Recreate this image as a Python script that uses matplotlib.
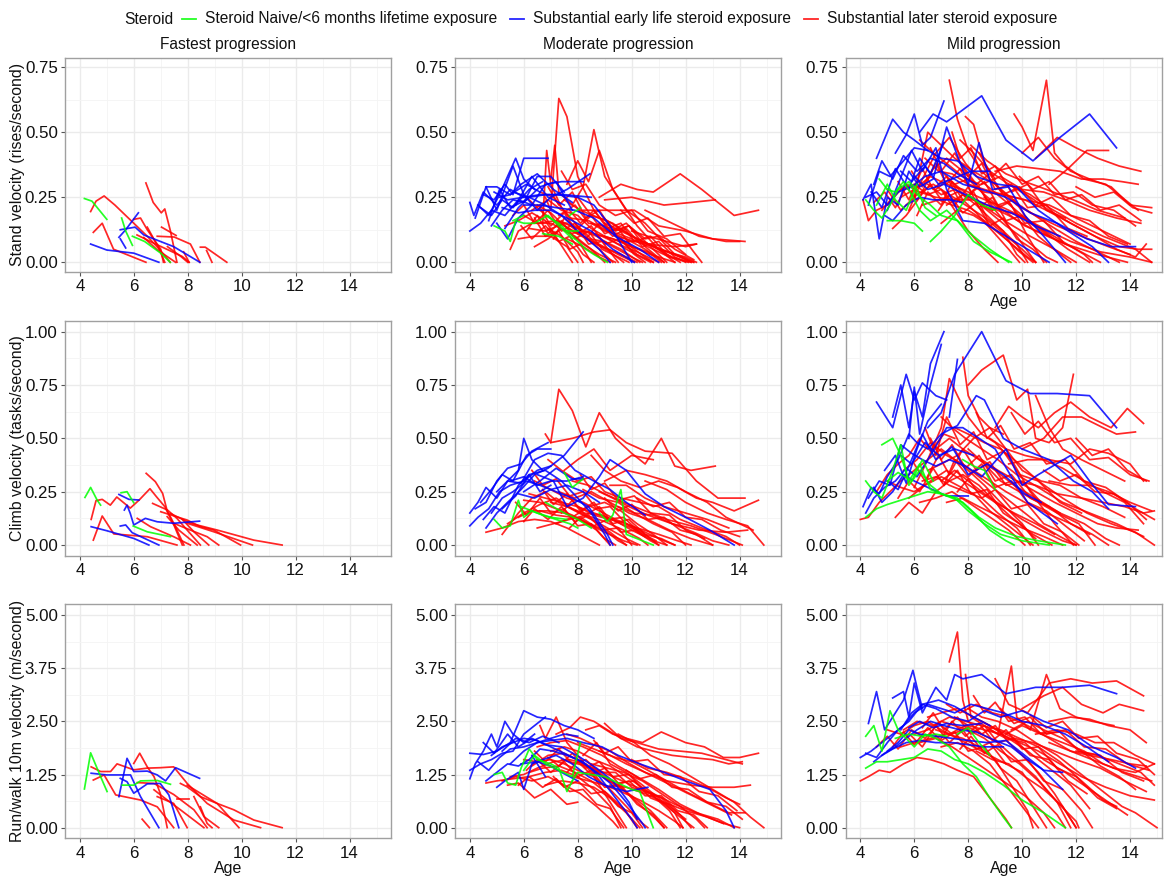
import matplotlib
matplotlib.use("Agg")
import matplotlib.pyplot as plt
from matplotlib.lines import Line2D

# ---------------- data: each trajectory = [age, value, age, value, ...] ----------------
GROUPS = ["Steroid Naive/<6 months lifetime exposure",
          "Substantial early life steroid exposure",
          "Substantial later steroid exposure"]
COLORS = ["#00FF00", "#0000FF", "#FF0000"]
COLUMN_TITLES = ["Fastest progression", "Moderate progression", "Mild progression"]
ROW_LABELS = ["Stand velocity (rises/second)", "Climb velocity (tasks/second)",
              "Run/walk 10m velocity (m/second)"]
ROW_TICKS = [[0.00, 0.25, 0.50, 0.75], [0.00, 0.25, 0.50, 0.75, 1.00],
             [0.00, 1.25, 2.50, 3.75, 5.00]]
X_TICKS = [4, 6, 8, 10, 12, 14]

# ---- Stand, fastest ----
STAND_FAST_GREEN = [
    [4.17, .245, 4.45, .235, 5.0, .165],
    [5.55, .17, 5.7, .12, 5.95, .065],
    [5.95, .10, 6.4, .08, 7.0, .035, 7.35, 0.0],
]
STAND_FAST_BLUE = [
    [4.4, .07, 5.0, .047, 6.0, .035, 6.93, 0.0],
    [5.45, .096, 5.7, .125, 6.17, .19],
    [5.5, .125, 6.05, .135, 6.37, .105, 7.48, .06, 8.45, 0.0],
    [5.5, .09, 5.7, .055],
]
STAND_FAST_RED = [
    [4.4, .195, 4.6, .235, 4.9, .255, 5.3, .22, 5.85, .165, 6.5, .10, 6.95, .05, 7.35, 0.0],
    [4.5, .115, 4.83, .15, 5.25, .05, 6.45, 0.0],
    [6.45, .305, 6.72, .23, 7.02, .19, 7.15, .205, 7.36, .12, 7.48, .06, 7.6, 0.0],
    [6.0, .165, 6.25, .17, 6.5, .125, 7.0, .05, 7.1, 0.0],
    [7.03, .135, 7.57, .103],
    [6.87, .1, 7.5, .097, 8.1, .07, 8.45, 0.0],
    [8.47, .058, 8.65, .058, 9.45, 0.0],
    [6.12, .105, 6.75, .073, 7.8, .022, 8.05, 0.0],
    [6.5, .135, 6.9, .06, 7.15, 0.0],
    [7.85, .04, 8.05, 0.0],
    [7.25, .06, 7.75, .022, 8.0, 0.0],
    [8.7, .045, 8.9, 0.0],
    [6.37, .095, 6.87, .048, 7.55, 0.0],
]

# ---- Stand, moderate ----
STAND_MOD_GREEN = [
    [4.9, .14, 5.3, .12, 5.5, .08, 5.7, .16, 6.0, .15, 6.4, .15, 6.9, .18, 7.3, .14, 7.8, .09],
    [6.7, .11, 7.3, .10, 7.8, .07],
    [6.8, .18, 7.3, .15, 7.8, .10, 8.3, .05, 8.6, .03, 9.1, 0.0],
    [5.6, .16, 6.0, .18],
    [7.7, .18, 8.1, .21],
    [7.6, .12, 8.0, .12],
]
STAND_MOD_BLUE = [
    [4.0, .23, 4.15, .18, 4.5, .27, 5.0, .22, 5.5, .28, 6.0, .25],
    [4.0, .12, 4.4, .15, 4.8, .20, 5.3, .18, 5.8, .24, 6.3, .22],
    [4.2, .17, 4.6, .29, 5.0, .29, 5.5, .26, 6.1, .30, 6.6, .27],
    [4.3, .22, 4.7, .18, 5.1, .26, 5.4, .33, 5.7, .40, 6.0, .32, 6.4, .28],
    [4.5, .26, 4.9, .24, 5.3, .30, 5.6, .26, 6.0, .40, 6.9, .40],
    [4.8, .14, 5.2, .20, 5.6, .24, 6.0, .23, 6.5, .33, 7.0, .33, 7.5, .27],
    [5.0, .15, 5.4, .09, 5.8, .17, 6.3, .22, 6.8, .30, 7.4, .31, 8.2, .31],
    [5.1, .25, 5.5, .26, 5.9, .30, 6.5, .34, 7.1, .28, 7.8, .23],
    [4.6, .29, 5.0, .20, 5.6, .37, 6.0, .26, 6.5, .20, 7.0, .25, 7.6, .28, 8.45, .34],
    [5.3, .13, 5.8, .21, 6.2, .25, 6.8, .26, 7.5, .26, 8.5, .25],
    [4.9, .27, 5.4, .24, 6.0, .25, 6.6, .26, 7.2, .26, 8.0, .25, 8.6, .22, 9.2, .14, 10.0, 0.0],
    [5.2, .21, 5.8, .19, 6.4, .20, 7.0, .20, 7.8, .16, 8.5, .12, 9.3, .05, 10.1, 0.0],
    [5.6, .27, 6.2, .25, 6.8, .22, 7.4, .18, 8.0, .12, 8.8, .05, 9.2, 0.0],
    [6.0, .22, 6.6, .22, 7.2, .21, 7.9, .20, 8.6, .17, 9.4, .10, 10.3, .05, 11.0, 0.0],
    [4.4, .21, 4.8, .18, 5.2, .24, 5.6, .21, 6.2, .28, 6.7, .31],
    [5.7, .22, 6.3, .33, 6.9, .25, 7.5, .22],
    [4.7, .16, 5.1, .28, 5.5, .21, 6.1, .24, 6.6, .29, 7.2, .31, 7.8, .20],
]
STAND_MOD_RED = [
    [6.8, .25, 7.0, .20, 7.3, .63, 7.6, .56, 8.0, .33, 8.6, .20, 9.4, .10, 10.2, .03, 10.8, 0.0],
    [6.7, .15, 6.85, .43, 7.0, .30, 7.4, .21, 8.0, .14, 8.6, .08, 9.5, .03, 10.1, 0.0],
    [7.0, .32, 7.15, .45, 7.3, .27, 7.8, .22, 8.2, .29, 8.6, .51, 9.0, .33, 9.5, .25, 10.2, .14, 11.0, .05, 11.6, 0.0],
    [7.6, .30, 8.0, .39, 8.4, .31, 8.8, .43, 9.3, .28, 9.8, .20, 10.5, .15, 11.6, .03, 12.2, 0.0],
    [8.8, .25, 9.6, .30, 10.2, .28, 10.8, .27, 11.8, .34, 12.6, .28, 13.8, .18, 14.7, .20],
    [9.0, .24, 10.0, .25, 11.2, .22, 12.2, .23, 13.1, .24],
    [8.2, .20, 9.0, .20, 10.1, .20, 11.0, .14, 12.0, .12, 13.0, .09, 14.2, .08],
    [10.5, .20, 11.5, .15, 12.5, .10, 13.5, .08, 14.0, .08],
    [9.4, .10, 10.5, .07, 11.6, .06, 12.4, .07],
    [9.0, .15, 10.0, .10, 11.0, .05, 12.0, .02, 12.4, 0.0],
    [5.5, .05, 5.8, .12, 6.3, .15, 7.0, .15, 7.6, .12, 8.2, .07, 8.8, .03, 9.4, 0.0],
    [5.8, .09, 6.4, .10, 7.0, .10, 7.6, .06, 8.0, 0.0],
    [6.0, .18, 6.5, .15, 7.2, .16, 7.8, .12, 8.5, .08, 9.2, .04, 9.7, 0.0],
    [6.2, .13, 6.8, .12, 7.5, .15, 8.0, .13, 8.7, .10, 9.3, .06, 10.0, .02, 10.4, 0.0],
    [6.5, .22, 7.0, .19, 7.5, .14, 8.2, .10, 8.9, .06, 9.6, .03, 10.2, 0.0],
    [6.3, .20, 6.9, .24, 7.4, .20, 8.0, .18, 8.5, .13, 9.0, .10, 9.8, .05, 10.7, 0.0],
    [7.2, .14, 7.7, .11, 8.3, .12, 8.9, .10, 9.5, .07, 10.2, .04, 11.0, 0.0],
    [7.5, .24, 8.1, .20, 8.8, .17, 9.3, .15, 10.0, .10, 10.8, .06, 11.5, .02, 12.2, 0.0],
    [8.0, .25, 8.5, .18, 9.1, .16, 9.7, .12, 10.4, .08, 11.3, .04, 12.3, 0.0],
    [6.6, .27, 7.1, .25, 7.7, .17, 8.4, .16, 9.1, .12, 9.8, .09, 10.5, .05, 11.2, 0.0],
    [5.3, .14, 5.8, .16, 6.3, .19, 6.8, .16, 7.3, .08, 7.8, 0.0],
    [6.9, .13, 7.4, .10, 8.0, .04, 8.2, 0.0],
    [8.5, .15, 9.0, .12, 9.5, .11, 10.0, .09, 10.6, .06, 11.4, .02, 12.1, 0.0],
    [7.9, .15, 8.4, .09, 9.0, .08, 9.6, .05, 10.3, 0.0],
    [6.4, .06, 6.9, .09, 7.4, .13, 7.9, .10, 8.5, .05, 9.0, 0.0],
    [9.2, .12, 9.8, .15, 10.3, .10, 10.9, .04, 11.3, 0.0],
    [7.3, .18, 7.9, .22, 8.4, .15, 9.0, .14, 9.7, .08, 10.5, .02, 10.8, 0.0],
    [8.6, .11, 9.3, .09, 10.0, .06, 10.7, .03, 11.6, 0.0],
    [7.6, .09, 8.2, .06, 8.8, .02, 9.2, 0.0],
    [6.1, .25, 6.6, .20, 7.1, .16, 7.6, .15, 8.1, .11, 8.6, .07, 9.1, .02, 9.3, 0.0],
    [10.0, .12, 10.6, .10, 11.3, .08, 12.0, .06, 12.4, .07],
    [9.0, .10, 9.6, .08, 10.4, .08, 11.1, .05, 11.9, .02, 12.3, 0.0],
    [6.1, .12, 6.5, .18, 6.9, .11, 7.4, .16, 7.9, .09, 8.4, .12, 8.9, .05, 9.5, .02, 9.9, 0.0],
    [6.6, .21, 7.0, .14, 7.5, .19, 8.0, .11, 8.5, .14, 9.0, .07, 9.6, .09, 10.1, .03, 10.5, 0.0],
    [7.1, .09, 7.5, .17, 8.0, .13, 8.5, .18, 9.0, .11, 9.5, .13, 10.0, .06, 10.6, .04, 11.1, 0.0],
    [7.7, .20, 8.1, .15, 8.6, .20, 9.1, .13, 9.6, .15, 10.1, .08, 10.7, .10, 11.3, .03, 11.8, 0.0],
    [5.9, .14, 6.3, .09, 6.8, .14, 7.3, .08, 7.7, .10, 8.2, .03, 8.6, 0.0],
    [8.3, .09, 8.8, .15, 9.3, .10, 9.8, .13, 10.4, .06, 11.0, .08, 11.6, .02, 12.0, 0.0],
    [6.9, .29, 7.3, .22, 7.8, .27, 8.3, .17, 8.8, .20, 9.3, .12, 9.9, .14, 10.5, .06, 11.2, 0.0],
    [5.6, .18, 6.0, .22, 6.4, .15, 6.9, .20, 7.4, .12, 7.9, .15, 8.4, .07, 8.9, .08, 9.5, 0.0],
    [9.6, .20, 10.1, .15, 10.6, .17, 11.2, .10, 11.8, .11, 12.3, .04, 12.6, 0.0],
    [7.4, .35, 7.8, .28, 8.3, .30, 8.8, .22, 9.4, .18, 10.0, .20, 10.6, .12, 11.3, .09, 12.0, .03],
    [6.4, .17, 6.8, .10, 7.3, .12, 7.7, .05, 8.1, .07, 8.5, 0.0],
    [8.9, .18, 9.4, .12, 9.9, .14, 10.5, .09, 11.0, .10, 11.6, .05, 12.3, .01],
]

# ---- Stand, mild ----
STAND_MILD_GREEN = [
    [4.2, .24, 4.5, .20, 4.8, .17, 5.1, .22, 5.4, .28, 5.8, .31, 6.1, .28, 6.4, .21, 6.8, .18],
    [4.7, .32, 5.0, .28, 5.3, .27, 5.6, .31, 5.9, .26, 6.2, .20, 6.6, .16, 7.2, .20, 7.7, .15, 8.2, .10, 8.8, .05, 9.5, 0.0],
    [5.8, .30, 6.2, .25, 6.6, .22, 7.0, .18, 7.6, .16, 8.2, .08, 8.8, .04, 9.6, 0.0],
    [6.6, .08, 7.0, .12, 7.5, .18, 8.0, .26, 8.5, .22, 9.0, .20],
    [5.0, .16, 5.5, .16, 6.0, .15, 6.3, .12],
    [4.6, .22, 5.0, .30, 5.3, .24, 5.7, .20, 6.1, .30],
]
STAND_MILD_BLUE = [
    [4.6, .40, 5.2, .55, 5.6, .50, 6.0, .47, 6.5, .43],
    [5.3, .42, 5.7, .49, 6.0, .57, 6.3, .45, 6.6, .48, 7.1, .62],
    [6.2, .50, 6.7, .57, 7.2, .54, 8.5, .64, 9.4, .47, 10.4, .39, 11.4, .48, 12.5, .57, 13.5, .44],
    [4.1, .24, 4.4, .30, 4.7, .09, 5.0, .25, 5.4, .22, 5.8, .35, 6.2, .29, 6.7, .32, 7.2, .52, 7.6, .41, 8.0, .30, 8.4, .46, 8.9, .28, 9.5, .29, 10.1, .18, 10.8, .10, 11.6, 0.0],
    [4.3, .22, 4.7, .35, 5.1, .33, 5.6, .39, 6.0, .44, 6.5, .43, 7.0, .40, 7.6, .39, 8.3, .33, 9.1, .30, 9.8, .29, 10.6, .20, 11.7, .12, 12.6, .06, 13.2, 0.0],
    [4.2, .25, 4.6, .27, 5.0, .22, 5.4, .27, 5.9, .29, 6.4, .33, 7.0, .35, 7.8, .30, 8.5, .28, 9.4, .25, 10.3, .19, 11.3, .15, 12.4, .09, 13.3, .06, 14.2, .06],
    [4.5, .30, 4.8, .39, 5.2, .32, 5.6, .41, 6.1, .35, 6.6, .40, 7.1, .38, 7.6, .34, 8.3, .30],
    [5.0, .20, 5.4, .30, 5.9, .43, 6.3, .35, 6.8, .44, 7.2, .28, 7.8, .16, 8.6, .15, 9.4, .10, 10.2, .05, 11.0, 0.0],
    [4.9, .18, 5.2, .16, 5.7, .22, 6.2, .25, 6.7, .24, 7.3, .24, 7.8, .23],
    [5.5, .35, 5.9, .31, 6.4, .37, 6.9, .30, 7.4, .32, 8.1, .35, 8.8, .35],
    [4.4, .27, 4.8, .21, 5.3, .36, 5.8, .28, 6.2, .40, 6.6, .34, 7.1, .46],
    [6.0, .33, 6.5, .28, 7.1, .30, 7.9, .26, 8.7, .22, 9.6, .19, 10.5, .14, 11.4, .10],
]
STAND_MILD_RED = [
    [4.1, .24, 4.3, .16, 4.6, .20, 5.0, .22, 5.5, .28, 6.0, .30, 6.5, .26, 7.0, .28, 7.5, .20, 8.0, .12, 8.6, .05, 9.1, 0.0],
    [7.3, .70, 7.6, .55, 8.0, .43, 8.5, .35, 9.0, .30, 9.6, .22, 10.2, .10, 10.8, 0.0],
    [7.9, .56, 8.2, .53, 8.6, .38, 9.0, .32],
    [9.7, .57, 10.0, .52, 10.4, .43, 10.9, .70, 11.2, .42, 11.6, .37, 12.3, .32, 13.1, .30, 14.3, .20],
    [10.0, .42, 10.6, .48, 11.2, .40, 11.8, .35, 12.5, .32, 13.3, .29, 14.0, .22, 14.8, .21],
    [10.5, .40, 11.3, .48, 12.0, .44, 12.8, .40, 13.6, .37, 14.4, .35],
    [11.0, .30, 11.7, .36, 12.4, .43, 13.2, .43],
    [9.0, .35, 9.8, .37, 10.6, .36, 11.4, .35, 12.2, .32, 13.0, .32, 13.7, .31, 14.3, .30],
    [8.5, .30, 9.2, .33, 10.0, .28, 10.8, .27, 11.6, .24, 12.5, .20, 13.5, .17, 14.4, .15],
    [8.1, .45, 8.7, .39, 9.4, .34, 10.1, .31, 10.9, .28, 11.9, .24, 12.8, .20, 13.8, .17],
    [5.2, .13, 5.7, .18, 6.2, .25, 6.7, .36, 7.2, .40, 7.8, .35, 8.3, .30, 9.0, .20, 9.8, .10, 10.5, 0.0],
    [5.8, .20, 6.3, .32, 6.8, .42, 7.3, .48, 7.9, .38, 8.4, .32, 9.2, .25, 10.0, .18, 10.8, .12, 11.7, .05, 12.5, 0.0],
    [6.0, .25, 6.5, .50, 7.0, .45, 7.5, .40, 8.2, .35, 9.0, .30, 9.9, .22, 10.9, .15, 12.0, .08, 13.0, .03, 13.6, 0.0],
    [6.5, .30, 7.0, .26, 7.5, .28, 8.0, .25, 8.7, .22, 9.5, .18, 10.5, .12, 11.6, .07, 12.8, .03, 13.9, 0.0],
    [7.0, .35, 7.5, .30, 8.0, .32, 8.6, .26, 9.3, .20, 10.1, .14, 11.0, .10, 12.0, .05, 12.9, 0.0],
    [7.2, .22, 7.8, .26, 8.3, .22, 9.0, .15, 9.8, .07, 10.2, 0.0],
    [6.3, .22, 6.9, .24, 7.4, .22, 8.0, .20, 8.6, .16, 9.3, .10, 9.9, .04, 10.4, 0.0],
    [5.5, .25, 6.0, .28, 6.6, .33, 7.2, .30, 7.8, .28, 8.4, .25, 9.1, .22, 9.9, .18, 10.8, .13, 11.8, .08, 12.9, .04, 14.0, .02, 14.8, 0.0],
    [8.0, .30, 8.6, .27, 9.3, .26, 10.1, .24, 10.9, .20, 11.8, .15, 12.7, .10, 13.6, .06, 14.3, .05, 14.8, .05],
    [8.2, .24, 8.8, .20, 9.5, .15, 10.3, .10, 11.2, .05, 12.0, 0.0],
    [9.5, .30, 10.3, .25, 11.0, .20, 11.8, .15, 12.7, .10, 13.5, .05, 14.2, .02, 14.6, .07],
    [7.5, .30, 8.1, .25, 8.7, .20, 9.4, .14, 10.2, .08, 10.9, .02, 11.3, 0.0],
    [6.8, .28, 7.3, .32, 7.8, .24, 8.3, .19, 8.9, .12, 9.5, .05, 9.9, 0.0],
    [5.0, .28, 5.5, .20, 6.1, .26, 6.7, .30, 7.3, .26, 7.9, .22, 8.5, .18, 9.2, .12, 10.0, .05, 10.5, 0.0],
    [4.8, .20, 5.2, .25, 5.7, .30, 6.2, .27, 6.8, .25, 7.5, .24, 8.2, .24, 8.9, .20],
    [6.4, .40, 6.9, .35, 7.4, .34, 8.0, .30, 8.6, .28, 9.3, .26, 10.1, .24, 11.0, .22, 12.0, .17, 13.0, .12, 14.0, .07],
    [8.6, .25, 9.2, .20, 9.9, .18, 10.7, .13, 11.5, .08, 12.3, .03, 12.6, 0.0],
    [7.7, .47, 8.2, .42, 8.8, .35, 9.5, .30, 10.3, .26, 11.0, .21, 12.0, .15, 13.0, .10, 14.2, .05, 14.8, 0.0],
    [9.2, .28, 9.8, .22, 10.5, .18, 11.3, .14, 12.2, .10, 13.2, .06, 14.0, .03],
    [7.0, .15, 7.6, .20, 8.2, .18, 8.8, .14, 9.5, .08, 10.2, .02, 10.5, 0.0],
    [6.2, .47, 6.7, .42, 7.2, .38, 7.8, .33, 8.4, .30],
    [5.9, .35, 6.3, .29, 6.8, .38, 7.2, .30, 7.7, .36, 8.1, .27, 8.6, .31, 9.1, .22, 9.7, .24, 10.3, .15, 11.0, .10],
    [6.1, .18, 6.5, .27, 7.0, .22, 7.4, .31, 7.9, .25, 8.4, .29, 8.9, .20, 9.5, .23, 10.1, .15, 10.8, .16, 11.5, .08],
    [6.6, .44, 7.0, .35, 7.5, .42, 8.0, .33, 8.5, .38, 9.0, .28, 9.6, .30, 10.2, .21, 10.9, .22, 11.7, .13, 12.4, .10],
    [7.1, .27, 7.5, .22, 8.0, .29, 8.4, .21, 8.9, .25, 9.4, .16, 10.0, .18, 10.6, .10, 11.3, .04, 11.8, 0.0],
    [5.4, .31, 5.8, .24, 6.3, .36, 6.7, .28, 7.2, .33, 7.7, .23, 8.2, .27, 8.7, .17, 9.3, .12, 9.8, .03, 10.1, 0.0],
    [7.8, .37, 8.3, .30, 8.8, .34, 9.3, .26, 9.9, .29, 10.5, .22, 11.1, .25, 11.8, .18, 12.5, .16, 13.2, .10, 13.9, .07],
    [8.4, .42, 8.9, .33, 9.4, .38, 10.0, .30, 10.6, .33, 11.2, .26, 11.9, .27, 12.6, .22, 13.4, .20, 14.2, .14],
    [6.9, .20, 7.3, .26, 7.8, .19, 8.3, .23, 8.8, .14, 9.3, .17, 9.8, .09, 10.4, .05, 10.9, 0.0],
    [4.5, .23, 4.9, .27, 5.3, .21, 5.7, .29, 6.1, .24, 6.6, .30, 7.0, .24, 7.6, .27],
    [9.9, .33, 10.4, .28, 11.0, .31, 11.6, .24, 12.2, .26, 12.9, .20, 13.6, .22, 14.4, .16],
    [12.0, .29, 12.7, .25, 13.4, .27, 14.1, .21, 14.8, .19],
    [7.4, .50, 7.7, .40, 8.1, .44, 8.5, .34, 9.0, .37, 9.6, .27, 10.2, .30, 10.9, .20, 11.6, .17],
]

# ---- Climb, fastest ----
CLIMB_FAST_GREEN = [
    [4.19, .223, 4.4, .27, 4.64, .211, 4.77, .187],
    [5.53, .245, 5.75, .25, 6.0, .198],
    [5.98, .089, 6.5, .062, 7.36, .039],
]
CLIMB_FAST_BLUE = [
    [4.42, .086, 5.0, .067, 6.0, .031, 6.56, 0.0],
    [5.45, .237, 5.82, .214, 6.19, .211],
    [5.5, .089, 5.7, .094, 5.94, .058, 6.93, 0.0],
    [5.65, .164, 5.75, .187, 5.87, .148, 6.0, .094, 6.43, .125, 6.87, .109, 7.48, .102, 8.44, .112],
]
CLIMB_FAST_RED = [
    [4.42, .12, 4.6, .208, 4.83, .214, 5.13, .187, 5.37, .225, 5.87, .173, 6.2, .211, 6.6, .264, 6.85, .225, 7.15, .18, 7.5, .09, 7.8, 0.0],
    [4.5, .023, 4.83, .136, 5.26, .052, 6.5, .039, 7.6, 0.0],
    [6.46, .336, 6.8, .297, 7.07, .242, 7.23, .164, 7.48, .102, 7.86, 0.0],
    [6.13, .125, 6.62, .086, 7.48, .039, 8.1, 0.0],
    [6.7, .195, 7.25, .164, 7.6, .125, 7.98, .07, 8.47, 0.0],
    [7.48, .102, 8.1, .07, 8.72, .039, 9.15, 0.0],
    [7.0, .156, 7.98, .117, 8.47, .086, 8.97, .07, 9.96, 0.0],
    [7.36, .148, 8.1, .102, 9.1, .07, 10.45, .023, 11.5, 0.0],
    [7.98, .102, 8.97, .062, 10.4, 0.0],
    [7.24, .133, 7.67, .07, 8.35, 0.0],
    [7.8, .12, 8.23, .062, 8.78, 0.0],
]

# ---- Climb, moderate ----
CLIMB_MOD_GREEN = [
    [4.9, .12, 5.2, .08, 5.5, .09, 5.8, .21, 6.0, .13, 6.3, .16, 6.7, .14, 7.2, .12, 7.7, .10, 8.0, .08],
    [5.9, .18, 6.5, .15, 7.0, .13, 7.6, .12],
    [7.5, .34, 7.8, .27, 8.2, .31],
    [8.8, .15, 9.1, .11, 9.3, .14, 9.6, .26, 9.8, .05, 10.2, .03, 10.8, 0.0],
    [6.8, .20, 7.5, .15, 8.0, .12, 8.5, .08],
]
CLIMB_MOD_BLUE = [
    [4.0, .15, 4.3, .20, 4.6, .27, 5.0, .22, 5.4, .30, 5.8, .35, 6.0, .50, 6.3, .40, 6.7, .35],
    [4.0, .09, 4.3, .13, 4.7, .17, 5.1, .25, 5.5, .28, 6.0, .30, 6.5, .35, 7.0, .37],
    [4.2, .17, 4.6, .20, 5.0, .30, 5.4, .36, 5.9, .38, 6.3, .44, 6.9, .48],
    [4.4, .20, 4.8, .26, 5.2, .33, 5.6, .30, 6.1, .42, 6.5, .45, 7.0, .45],
    [4.6, .08, 5.0, .15, 5.4, .20, 5.9, .26, 6.4, .33, 6.9, .36, 7.5, .42, 8.2, .53],
    [4.8, .15, 5.2, .22, 5.6, .25, 6.1, .30, 6.6, .28, 7.2, .25, 7.8, .22, 8.4, .18, 9.1, .05, 9.3, 0.0],
    [5.0, .25, 5.4, .30, 5.9, .29, 6.4, .40, 6.9, .43, 7.4, .42, 7.9, .35, 8.6, .30, 9.2, .26, 9.8, .20, 10.5, .14],
    [5.2, .17, 5.7, .23, 6.2, .33, 6.8, .35, 7.4, .30, 8.0, .22, 8.5, .15, 9.0, .05, 9.2, 0.0],
    [5.5, .30, 6.0, .32, 6.5, .28, 7.0, .30, 7.6, .30, 8.2, .32],
    [6.0, .25, 6.6, .30, 7.2, .36, 7.8, .31, 8.2, .31],
    [6.5, .33, 7.1, .30, 7.6, .18, 8.2, .22, 8.8, .32, 9.2, .40, 9.8, .35, 10.5, .24, 11.2, .18, 12.0, .13, 12.9, .07, 13.8, 0.0],
    [5.8, .24, 6.4, .22, 7.0, .26, 7.6, .28, 8.2, .25, 8.8, .20],
    [4.5, .12, 4.9, .18, 5.3, .15, 5.8, .28, 6.2, .33, 6.6, .25, 7.0, .28],
]
CLIMB_MOD_RED = [
    [6.8, .52, 7.0, .48, 7.3, .73, 7.8, .63, 8.3, .46, 8.8, .62, 9.4, .50, 10.0, .43, 10.5, .38, 11.1, .50, 11.6, .37, 12.2, .35, 13.1, .37],
    [7.0, .48, 7.8, .50, 8.6, .53, 9.2, .54, 9.8, .48, 10.5, .44, 11.5, .43, 12.4, .30, 13.2, .22, 14.2, .22],
    [7.5, .35, 8.0, .40, 8.6, .45, 9.2, .35, 10.0, .42, 10.8, .40],
    [8.5, .42, 9.0, .35, 9.6, .30, 10.3, .27, 11.0, .30, 11.7, .27, 12.4, .22, 13.0, .20, 13.8, .16, 14.7, .21],
    [9.0, .30, 9.8, .35, 10.5, .33, 11.3, .30, 12.0, .25, 12.8, .20, 13.5, .13, 14.5, .07],
    [6.0, .21, 6.6, .20, 7.2, .17, 7.8, .14, 8.4, .10, 9.0, .06, 9.7, .02, 10.2, 0.0],
    [6.2, .24, 6.8, .22, 7.4, .20, 8.0, .18, 8.6, .15, 9.3, .12, 10.0, .07, 10.8, .02, 11.3, 0.0],
    [4.6, .06, 5.2, .08, 5.8, .11, 6.4, .12, 7.0, .11, 7.6, .08, 8.2, .04, 8.8, 0.0],
    [5.4, .10, 6.0, .15, 6.6, .19, 7.2, .22, 7.8, .17, 8.4, .13, 9.1, .08, 9.8, .03, 10.3, 0.0],
    [6.4, .30, 7.0, .26, 7.6, .22, 8.2, .20, 8.8, .16, 9.4, .12, 10.2, .08, 11.0, .05, 11.7, .02, 12.2, 0.0],
    [7.3, .25, 7.9, .22, 8.5, .25, 9.2, .20, 9.9, .15, 10.6, .12, 11.4, .07, 12.2, .03, 13.0, 0.0],
    [7.8, .30, 8.4, .28, 9.0, .24, 9.7, .20, 10.5, .16, 11.3, .12, 12.2, .09, 13.1, .05, 14.1, 0.0],
    [8.0, .18, 8.6, .14, 9.2, .12, 9.8, .10, 10.5, .06, 11.2, .02, 11.6, 0.0],
    [8.8, .25, 9.3, .22, 9.9, .18, 10.6, .14, 11.5, .10, 12.5, .07, 13.5, .06, 14.3, .07],
    [10.5, .30, 11.3, .26, 12.0, .20, 12.8, .15, 13.5, .12, 14.3, .09, 14.9, 0.0],
    [6.6, .16, 7.2, .14, 7.8, .13, 8.4, .10, 9.0, .07, 9.5, .02, 9.8, 0.0],
    [5.8, .13, 6.3, .16, 6.9, .16, 7.5, .15, 8.1, .12, 8.7, .07, 9.2, 0.0],
    [7.0, .20, 7.6, .18, 8.2, .15, 8.9, .14, 9.6, .10, 10.4, .06, 11.0, 0.0],
    [8.2, .26, 8.8, .22, 9.5, .20, 10.1, .15, 10.8, .10, 11.5, .06, 12.0, 0.0],
    [9.5, .18, 10.1, .15, 10.8, .14, 11.5, .10, 12.3, .06, 13.0, .02, 13.6, 0.0],
    [6.9, .40, 7.4, .35, 8.0, .30, 8.5, .32, 9.0, .25, 9.6, .22, 10.3, .20, 11.0, .18, 11.8, .12, 12.6, .08, 13.5, .04, 14.0, 0.0],
    [7.2, .10, 7.8, .13, 8.4, .18, 9.0, .20, 9.6, .16, 10.2, .10, 10.8, .05, 11.3, 0.0],
    [6.5, .08, 7.1, .10, 7.7, .12, 8.3, .14, 9.0, .11, 9.7, .07, 10.3, .03, 10.6, 0.0],
    [5.2, .05, 5.8, .15, 6.3, .22, 6.8, .25, 7.3, .20, 7.9, .16, 8.5, .12, 9.2, .06, 9.8, 0.0],
    [9.2, .28, 9.8, .28, 10.5, .22, 11.2, .18, 12.0, .15, 12.8, .12, 13.6, .08],
    [6.0, .11, 6.4, .17, 6.9, .12, 7.4, .18, 7.9, .11, 8.4, .14, 8.9, .07, 9.5, .08, 10.0, 0.0],
    [6.7, .26, 7.1, .19, 7.6, .24, 8.1, .16, 8.6, .20, 9.1, .12, 9.7, .13, 10.3, .06, 10.9, .02],
    [7.4, .15, 7.8, .21, 8.3, .14, 8.8, .18, 9.3, .10, 9.9, .12, 10.5, .05, 11.1, .03, 11.6, 0.0],
    [8.1, .33, 8.5, .26, 9.0, .29, 9.5, .21, 10.1, .23, 10.7, .15, 11.4, .14, 12.0, .07, 12.7, .03],
    [5.7, .20, 6.1, .14, 6.6, .22, 7.0, .15, 7.5, .17, 8.0, .09, 8.5, .10, 9.0, .03, 9.4, 0.0],
    [9.0, .22, 9.5, .16, 10.0, .19, 10.6, .12, 11.2, .13, 11.8, .07, 12.4, .05, 13.0, 0.0],
    [6.3, .35, 6.7, .28, 7.2, .31, 7.7, .23, 8.2, .25, 8.7, .17, 9.2, .18, 9.8, .10, 10.5, .04],
    [7.7, .08, 8.1, .13, 8.6, .09, 9.1, .12, 9.6, .06, 10.1, .07, 10.7, .02, 11.0, 0.0],
    [10.2, .22, 10.8, .18, 11.4, .20, 12.0, .13, 12.6, .12, 13.3, .07, 14.0, .04],
]

# ---- Climb, mild ----
CLIMB_MILD_GREEN = [
    [4.2, .30, 4.5, .25, 4.8, .22, 5.2, .35, 5.5, .47, 5.8, .28, 6.2, .35, 6.6, .28, 7.0, .24, 7.6, .22, 8.2, .15, 8.8, .07, 9.4, .02, 9.7, 0.0],
    [4.8, .47, 5.2, .50, 5.5, .42, 5.8, .30, 6.2, .38, 6.6, .26, 7.2, .23, 7.8, .20, 8.4, .13, 9.0, .08, 9.8, .04, 10.6, .02, 11.6, 0.0],
    [4.2, .13, 4.6, .17, 5.0, .19, 5.5, .21, 6.0, .23, 6.5, .25, 7.0, .24, 7.5, .22, 8.0, .16, 8.6, .10, 9.2, .05, 10.0, .02, 11.0, 0.0],
    [7.8, .40, 8.2, .37, 8.6, .35, 9.0, .26],
    [5.0, .30, 5.4, .34, 5.9, .30, 6.3, .40, 6.7, .30],
]
CLIMB_MILD_BLUE = [
    [4.6, .67, 5.2, .55, 5.7, .80, 6.0, .68, 6.3, .76, 6.8, .70, 7.2, .68],
    [5.2, .60, 5.5, .75, 5.8, .55, 6.0, .72, 6.3, .60, 6.6, .85, 7.1, 1.0],
    [5.8, .50, 6.0, .74, 6.2, .52, 6.6, .75, 7.0, .94],
    [7.3, .60, 7.6, .87],
    [6.5, .55, 7.0, .62, 7.5, .80, 8.0, .90, 8.5, 1.0, 9.4, .77, 10.3, .71, 11.3, .71, 12.5, .70, 13.5, .55],
    [4.1, .18, 4.4, .27, 4.7, .24, 5.0, .32, 5.4, .40, 5.8, .52, 6.1, .48, 6.5, .45, 7.0, .52, 7.6, .56, 8.3, .70, 8.6, .68, 9.3, .50, 10.0, .45, 11.0, .40, 11.9, .30, 12.6, .25, 13.2, .17],
    [4.2, .15, 4.5, .22, 4.9, .27, 5.3, .30, 5.7, .36, 6.1, .32, 6.6, .42, 7.2, .55, 7.8, .55, 8.4, .50, 9.0, .45, 9.6, .32, 10.2, .20, 11.3, .10],
    [4.3, .22, 4.7, .30, 5.1, .28, 5.5, .47, 5.9, .43, 6.3, .40, 6.8, .37, 7.3, .40, 7.9, .37, 8.5, .32, 9.4, .45, 10.0, .28, 10.6, .33, 11.8, .42, 12.5, .30, 13.2, .19, 14.2, .18],
    [4.5, .27, 4.8, .20, 5.2, .25, 5.6, .33, 6.0, .30, 6.5, .27, 7.2, .23, 8.0, .23],
    [5.0, .30, 5.4, .26, 5.8, .37, 6.3, .52, 6.8, .40, 7.4, .46, 8.0, .33, 8.7, .38, 9.3, .33, 10.1, .24, 10.7, .20],
    [5.5, .42, 5.9, .38, 6.4, .48, 6.9, .42, 7.5, .45, 8.2, .42],
    [4.9, .35, 5.3, .42, 5.7, .29, 6.1, .45, 6.5, .58, 7.0, .66],
]
CLIMB_MILD_RED = [
    [4.0, .12, 4.3, .13, 4.7, .20, 5.1, .25, 5.5, .30, 6.0, .35, 6.5, .40, 7.0, .45, 7.5, .40, 8.0, .35, 8.6, .28, 9.2, .20, 10.0, .10, 10.6, 0.0],
    [4.6, .25, 5.0, .33, 5.4, .38, 5.8, .42, 6.2, .50, 6.6, .44, 7.1, .52, 7.5, .50],
    [5.3, .13, 5.8, .20, 6.3, .15, 6.8, .25, 7.3, .30, 7.8, .33, 8.4, .28, 9.0, .20, 9.6, .13, 10.4, .05, 11.1, 0.0],
    [6.0, .27, 6.5, .40, 7.0, .55, 7.3, .78, 7.6, .70, 8.0, .60, 8.5, .52, 9.0, .48, 9.6, .40, 10.3, .25, 11.2, .10, 11.9, 0.0],
    [7.8, .88, 8.0, .70, 8.4, .60, 8.8, .55, 9.3, .52],
    [8.0, .75, 8.5, .82, 9.3, .89, 9.8, .68, 10.2, .73, 10.5, .50, 11.0, .48, 11.5, .55, 11.9, .80],
    [9.0, .55, 9.5, .65, 10.0, .60, 10.6, .55, 11.2, .62, 11.8, .67, 12.5, .60, 13.3, .55, 13.9, .64, 14.5, .57],
    [10.0, .45, 10.8, .50, 11.5, .60, 12.2, .60, 13.0, .55, 13.5, .52, 14.2, .53],
    [9.5, .38, 10.2, .40, 11.0, .40, 11.8, .38, 12.5, .45, 13.2, .43, 14.0, .38, 14.5, .30],
    [8.5, .40, 9.1, .35, 9.8, .30, 10.5, .28, 11.3, .24, 12.2, .22, 13.0, .20, 13.8, .18, 14.5, .15, 14.9, .16],
    [11.0, .30, 11.8, .28, 12.5, .28, 13.2, .25, 14.0, .20, 14.8, .16],
    [7.0, .30, 7.5, .35, 8.0, .30, 8.6, .24, 9.3, .18, 10.0, .12, 10.7, .07, 11.5, .02, 12.0, 0.0],
    [6.8, .45, 7.3, .50, 7.8, .45, 8.4, .40, 9.0, .35, 9.7, .28, 10.5, .22, 11.4, .15, 12.3, .10, 13.1, .03, 13.6, 0.0],
    [7.5, .55, 8.0, .52, 8.6, .48, 9.2, .45, 9.9, .38, 10.6, .30, 11.5, .22, 12.4, .15, 13.3, .10, 14.2, .06, 14.9, 0.0],
    [8.2, .35, 8.8, .30, 9.4, .25, 10.1, .20, 10.9, .15, 11.8, .10, 12.6, .05, 13.2, 0.0],
    [6.3, .30, 6.8, .32, 7.3, .28, 7.9, .25, 8.5, .22, 9.1, .15, 9.8, .08, 10.3, 0.0],
    [5.6, .35, 6.1, .40, 6.6, .48, 7.2, .42, 7.8, .38, 8.4, .32, 9.1, .25, 9.8, .18, 10.6, .10, 11.4, .04, 12.0, 0.0],
    [7.0, .60, 7.4, .55, 7.9, .50, 8.5, .45, 9.1, .40, 9.8, .33, 10.6, .27, 11.5, .20, 12.5, .15, 13.5, .10, 14.5, .04],
    [8.8, .50, 9.4, .45, 10.1, .42, 10.8, .40, 11.5, .36, 12.3, .30, 13.0, .25, 13.8, .20, 14.5, .10],
    [6.2, .20, 6.8, .22, 7.4, .25, 8.0, .20, 8.7, .14, 9.5, .07, 10.1, 0.0],
    [10.5, .70, 11.0, .55, 11.5, .45, 12.2, .40, 13.0, .35, 13.8, .30],
    [5.0, .30, 5.5, .27, 6.0, .25, 6.6, .30, 7.2, .35, 7.8, .30, 8.4, .25, 9.0, .20, 9.7, .15, 10.5, .10, 11.2, .05],
    [6.5, .35, 7.0, .38, 7.6, .42, 8.2, .50, 8.8, .55, 9.4, .45, 10.0, .35, 10.7, .30, 11.4, .28, 12.2, .22, 13.0, .18, 13.8, .13],
    [9.8, .30, 10.5, .25, 11.2, .20, 12.0, .15, 12.8, .10, 13.5, .08, 14.3, .07],
    [8.0, .45, 8.6, .38, 9.2, .30, 9.9, .25, 10.6, .20, 11.3, .15, 12.1, .10, 12.7, 0.0],
    [5.8, .22, 6.4, .28, 7.0, .32, 7.6, .28, 8.2, .24, 8.8, .16, 9.4, .10, 10.0, .04, 10.4, 0.0],
    [7.2, .20, 7.8, .22, 8.4, .18, 9.2, .13, 10.0, .08, 10.8, .04, 11.5, 0.0],
    [6.0, .38, 6.4, .30, 6.9, .42, 7.3, .33, 7.8, .45, 8.3, .35, 8.8, .39, 9.4, .28, 10.0, .30, 10.7, .20, 11.4, .15],
    [6.4, .55, 6.8, .42, 7.2, .60, 7.7, .47, 8.2, .53, 8.7, .40, 9.3, .44, 9.9, .33, 10.6, .30, 11.4, .20, 12.2, .15],
    [7.1, .28, 7.5, .40, 8.0, .32, 8.5, .38, 9.0, .27, 9.6, .30, 10.2, .20, 10.9, .16, 11.7, .08, 12.3, .02],
    [5.4, .22, 5.8, .30, 6.2, .25, 6.7, .36, 7.1, .28, 7.6, .35, 8.1, .24, 8.7, .26, 9.3, .15, 9.9, .10, 10.5, .03],
    [8.3, .62, 8.7, .50, 9.2, .56, 9.7, .45, 10.3, .48, 10.9, .38, 11.6, .40, 12.3, .30, 13.1, .27, 13.9, .20, 14.6, .12],
    [9.6, .62, 10.1, .52, 10.6, .58, 11.2, .48, 11.8, .50, 12.5, .40, 13.2, .41, 14.0, .33, 14.7, .30],
    [7.6, .25, 8.0, .31, 8.5, .22, 9.0, .26, 9.6, .17, 10.2, .19, 10.8, .10, 11.5, .06, 12.1, 0.0],
    [6.6, .50, 7.0, .40, 7.4, .47, 7.9, .36, 8.4, .42, 9.0, .30, 9.6, .33, 10.3, .22, 11.0, .18, 11.8, .10, 12.5, .05],
    [12.0, .50, 12.6, .42, 13.2, .45, 13.9, .35, 14.6, .30],
    [10.8, .35, 11.4, .30, 12.0, .33, 12.7, .25, 13.4, .24, 14.2, .17, 14.9, .12],
]

# ---- Run/walk, fastest ----
RUN_FAST_GREEN = [
    [4.17, .91, 4.4, 1.76, 4.77, 1.2, 5.01, .85],
    [5.57, 1.0, 6.0, 1.0, 6.25, 1.1, 6.87, 1.11, 7.36, 1.02],
]
RUN_FAST_BLUE = [
    [4.42, 1.28, 5.0, 1.24, 5.88, 1.24, 6.25, .73, 6.93, 0.0],
    [5.45, .73, 5.75, 1.63, 6.0, 1.32, 6.5, 1.33, 6.87, 1.24, 7.18, 1.1, 7.55, 1.41, 8.44, 1.16],
    [5.5, 1.16, 5.75, 1.08, 6.0, .81, 6.5, 1.03, 6.98, 1.04, 7.3, .77, 7.67, 0.0],
]
RUN_FAST_RED = [
    [4.42, 1.43, 4.77, 1.32, 5.14, 1.32, 5.38, 1.5, 6.0, 1.36, 6.5, 1.4, 6.98, 1.41, 7.48, 1.43, 7.98, 1.04, 8.72, .57, 9.71, .18, 10.7, 0.0],
    [4.5, 1.12, 4.9, 1.24, 5.33, .77, 6.25, .65, 6.87, .49, 7.48, 0.0],
    [6.0, 1.51, 6.22, 1.75, 6.5, 1.43, 6.75, 1.2, 6.98, .81, 7.24, 0.0],
    [6.31, .2, 6.58, 0.0],
    [6.13, 1.06, 6.75, 1.04, 7.48, .78, 8.23, .42, 8.72, 0.0],
    [7.73, 1.04, 7.98, .96, 8.47, .73, 9.09, .57, 9.71, .42, 10.45, .18, 11.5, 0.0],
    [7.6, .67, 8.04, .67],
    [6.75, .89, 7.24, .65, 7.73, .42, 8.6, 0.0],
    [6.87, .73, 7.48, .57, 7.98, 0.0],
    [7.98, 1.0, 8.47, .81, 9.09, .57, 9.9, 0.0],
    [8.47, .49, 8.72, .1, 8.9, 0.0],
    [8.23, .73, 8.6, .26, 9.15, 0.0],
]

# ---- Run/walk, moderate ----
RUN_MOD_GREEN = [
    [4.9, 1.25, 5.2, 1.3, 5.4, 1.05, 5.7, 1.0, 5.9, 1.4, 6.2, 1.85, 6.5, 1.6, 7.0, 1.5, 7.3, 1.4, 7.6, .85, 7.8, 1.1],
    [6.0, 1.35, 6.4, 1.7, 6.8, 1.5, 7.3, 1.35, 7.8, 1.2, 8.1, 2.0],
    [7.8, 1.1, 8.0, 1.3, 8.5, 1.25, 9.0, 1.2, 9.5, 1.05, 10.0, .9, 10.3, .85, 10.5, .5, 10.8, 0.0],
]
RUN_MOD_BLUE = [
    [4.0, 1.15, 4.2, 1.5, 4.5, 1.8, 4.8, 2.2, 5.0, 1.9, 5.3, 2.5, 5.6, 2.2, 6.0, 2.0, 6.4, 2.2],
    [4.0, 1.75, 4.5, 1.72, 5.0, 1.8, 5.5, 2.0, 6.0, 2.75, 6.5, 2.6, 7.0, 2.55, 7.5, 2.4, 8.0, 2.3, 8.6, 2.1],
    [4.0, 1.35, 4.4, 1.5, 4.8, 1.6, 5.2, 1.75, 5.6, 1.8, 6.0, 2.2, 6.4, 2.4, 6.8, 2.6],
    [4.3, 1.55, 4.7, 1.35, 5.1, 1.65, 5.5, 1.85, 6.0, 1.9, 6.5, 2.0, 7.0, 2.1, 7.5, 2.2, 8.0, 2.15],
    [4.6, 1.1, 5.0, 1.3, 5.4, 1.5, 5.8, 1.45, 6.2, 1.6, 6.6, 1.85, 7.1, 1.8, 7.6, 1.7, 8.2, 1.55, 8.8, 1.2, 9.4, .7, 10.0, .2, 10.2, 0.0],
    [4.8, 1.7, 5.2, 1.9, 5.6, 2.0, 6.0, 2.1, 6.5, 2.05, 7.0, 1.9, 7.5, 1.75, 8.0, 1.6, 8.6, 1.35, 9.2, 1.05, 9.8, .6, 10.4, .1, 10.5, 0.0],
    [5.0, .95, 5.3, 1.1, 5.8, 1.3, 6.0, .9, 6.3, 1.5, 6.7, 1.6, 7.2, 1.7, 7.8, 1.5, 8.4, 1.2, 9.0, 1.0, 9.8, .85, 10.6, .95],
    [5.5, 1.5, 6.0, 1.8, 6.5, 2.0, 7.0, 2.05, 7.6, 2.1, 8.2, 2.0, 8.9, 1.9, 9.5, 1.7, 10.3, 1.5, 11.2, 1.3, 12.0, 1.1, 12.9, .9, 13.5, .4, 13.8, 0.0],
    [6.3, 1.7, 6.8, 1.2],
    [5.2, 1.8, 5.7, 2.1, 6.2, 2.0, 6.7, 2.15, 7.3, 2.0],
    [4.5, 2.0, 4.9, 1.75, 5.4, 2.2, 5.8, 1.9, 6.3, 2.1, 6.8, 1.95, 7.4, 1.9, 8.1, 1.65, 8.7, 1.4, 9.3, 1.1, 9.9, .6, 10.2, .2],
    [5.9, 1.5, 6.5, 1.55, 7.0, 1.45, 7.4, 1.3, 8.0, 1.1],
]
RUN_MOD_RED = [
    [4.6, 1.05, 5.0, 1.1, 5.6, 1.15, 6.2, 1.2, 6.8, 1.3, 7.4, 1.35, 8.0, 1.2, 8.6, .9, 9.2, .5, 9.6, 0.0],
    [5.4, 1.0, 5.8, 1.05, 6.4, .7, 7.0, .9, 7.6, .55, 8.0, .6],
    [6.6, 2.4, 6.8, 2.1, 7.2, 2.6, 7.6, 2.0, 8.0, 1.7, 8.5, 1.3, 9.0, .8, 9.5, .3, 9.8, 0.0],
    [7.2, 2.2, 7.7, 2.35, 8.1, 2.6, 8.6, 2.5, 9.1, 2.3, 9.6, 2.1, 10.2, 1.9, 10.8, 1.8, 11.5, 1.7, 12.2, 1.65, 13.0, 1.6, 13.6, 1.5, 14.1, 1.55],
    [8.3, 2.3, 8.8, 2.4, 9.3, 2.2, 9.8, 2.1, 10.4, 2.0, 11.1, 2.25, 12.0, 2.0, 12.7, 1.9, 13.4, 1.65, 14.0, 1.65, 14.7, 1.75],
    [9.0, 2.45, 9.6, 2.1, 10.2, 2.0, 11.0, 1.85, 11.8, 1.8, 12.6, 1.75, 13.5, 1.6, 14.1, 1.5],
    [8.0, 2.0, 8.6, 1.85, 9.2, 1.7, 9.8, 1.5, 10.5, 1.3, 11.3, 1.1, 12.2, 1.0, 13.0, .95, 13.8, .95, 14.4, 1.0],
    [9.5, 2.2, 10.1, 2.0, 10.7, 1.7, 11.4, 1.5, 12.2, 1.2, 13.0, .9, 13.8, .6, 14.4, .25, 14.9, 0.0],
    [6.0, 1.6, 6.5, 1.55, 7.0, 1.6, 7.5, 1.5, 8.0, 1.35, 8.6, 1.2, 9.2, .9, 9.8, .5, 10.4, .1, 10.6, 0.0],
    [6.2, 1.3, 6.7, 1.4, 7.3, 1.45, 7.9, 1.3, 8.5, 1.1, 9.1, .8, 9.7, .45, 10.2, 0.0],
    [5.5, 1.2, 6.0, 1.25, 6.5, 1.4, 7.1, 1.55, 7.7, 1.6, 8.3, 1.5, 8.9, 1.25, 9.5, 1.0, 10.2, .6, 10.9, .2, 11.2, 0.0],
    [7.0, 1.8, 7.5, 1.9, 8.0, 1.8, 8.6, 1.6, 9.2, 1.45, 9.8, 1.2, 10.5, .9, 11.2, .55, 11.9, .2, 12.3, 0.0],
    [7.4, 1.6, 8.0, 1.5, 8.6, 1.4, 9.3, 1.2, 10.0, 1.0, 10.8, .8, 11.6, .55, 12.4, .35, 13.2, .2, 13.8, 0.0],
    [8.5, 1.5, 9.1, 1.4, 9.7, 1.3, 10.4, 1.1, 11.1, .8, 11.8, .5, 12.4, .2, 12.7, 0.0],
    [6.5, 1.9, 7.0, 2.0, 7.6, 2.05, 8.2, 1.9, 8.9, 1.7, 9.5, 1.45, 10.2, 1.2, 11.0, .9, 11.8, .55, 12.6, .3, 13.4, .1, 14.0, 0.0],
    [5.2, 1.1, 5.7, 1.2, 6.3, 1.1, 6.9, 1.2, 7.5, 1.0, 8.1, .8, 8.7, .5, 9.3, .15, 9.5, 0.0],
    [7.8, 1.2, 8.4, 1.1, 9.0, 1.0, 9.6, .85, 10.3, .65, 11.0, .4, 11.6, .15, 11.9, 0.0],
    [8.8, 1.8, 9.4, 1.65, 10.0, 1.55, 10.6, 1.35, 11.3, 1.1, 12.0, .85, 12.8, .6, 13.6, .35, 14.2, .35],
    [9.2, 1.0, 9.8, .95, 10.5, .8, 11.2, .6, 12.0, .4, 12.8, .25, 13.4, .1],
    [6.8, 1.0, 7.4, 1.1, 8.0, 1.05, 8.6, .95, 9.2, .7, 9.8, .35, 10.3, 0.0],
    [10.0, 1.6, 10.6, 1.4, 11.3, 1.3, 12.0, 1.15, 12.8, .95, 13.5, .7, 14.0, .55],
    [7.6, 2.2, 8.1, 2.1, 8.6, 1.95, 9.2, 1.8, 9.8, 1.55, 10.5, 1.3, 11.3, 1.05, 12.1, .8, 12.9, .55, 13.7, .3],
    [8.2, 1.7, 8.7, 2.0, 9.2, 1.5, 9.8, 1.3, 10.4, 1.0, 11.0, .7, 11.6, .35, 11.9, 0.0],
    [6.3, 1.45, 6.9, 1.7, 7.5, 1.75, 8.1, 1.55, 8.7, 1.3, 9.3, 1.05, 10.0, .75, 10.7, .4, 11.3, 0.0],
    [6.1, 1.35, 6.5, 1.6, 7.0, 1.3, 7.5, 1.55, 8.0, 1.2, 8.5, 1.35, 9.0, .95, 9.6, 1.0, 10.2, .55, 10.8, .3, 11.2, 0.0],
    [6.9, 1.65, 7.3, 1.45, 7.8, 1.75, 8.3, 1.4, 8.8, 1.55, 9.3, 1.2, 9.9, 1.25, 10.5, .85, 11.1, .7, 11.8, .3, 12.2, 0.0],
    [7.6, 1.3, 8.0, 1.55, 8.5, 1.25, 9.0, 1.4, 9.5, 1.05, 10.1, 1.1, 10.7, .7, 11.3, .55, 12.0, .2],
    [5.8, 1.0, 6.2, 1.2, 6.7, .95, 7.2, 1.15, 7.7, .85, 8.2, .9, 8.7, .55, 9.2, .45, 9.7, 0.0],
    [8.6, 2.05, 9.0, 1.75, 9.5, 1.9, 10.0, 1.55, 10.6, 1.6, 11.2, 1.25, 11.8, 1.2, 12.5, .85, 13.2, .75, 13.9, .4],
    [9.8, 1.35, 10.3, 1.15, 10.9, 1.25, 11.5, .95, 12.1, .9, 12.8, .6, 13.5, .5, 14.1, .2],
    [7.1, 1.2, 7.5, .95, 8.0, 1.1, 8.5, .8, 9.0, .85, 9.5, .5, 10.0, .35, 10.4, 0.0],
    [6.4, 1.8, 6.8, 1.55, 7.3, 1.85, 7.8, 1.5, 8.3, 1.6, 8.8, 1.3, 9.4, 1.3, 10.0, .95, 10.7, .8, 11.4, .4, 11.8, 0.0],
    [8.9, 1.2, 9.4, 1.0, 9.9, 1.1, 10.5, .75, 11.1, .75, 11.7, .4, 12.3, .3, 12.8, 0.0],
]

# ---- Run/walk, mild ----
RUN_MILD_GREEN = [
    [4.2, 2.15, 4.5, 2.4, 4.8, 1.8, 5.1, 2.75, 5.4, 2.3, 5.7, 2.1, 6.0, 1.9, 6.4, 2.2, 6.8, 2.1, 7.3, 1.9, 7.8, 1.5, 8.3, 1.2, 8.8, .7, 9.3, .25, 9.6, 0.0],
    [4.2, 1.4, 4.6, 1.55, 5.0, 1.55, 5.5, 1.6, 6.0, 1.65, 6.5, 1.85, 7.0, 1.8, 7.5, 1.6, 8.0, 1.5, 8.6, 1.3, 9.3, 1.0, 10.0, .65, 10.8, .35, 11.6, 0.0],
    [7.6, 2.2, 8.0, 2.35, 8.4, 2.0, 8.8, 1.7],
    [5.3, 2.1, 5.8, 2.2, 6.3, 2.15, 6.8, 2.2, 7.2, 2.15],
]
RUN_MILD_BLUE = [
    [4.3, 2.45, 4.6, 3.2, 4.9, 2.3, 5.2, 2.6, 5.6, 3.0, 5.95, 3.7, 6.1, 3.3, 6.3, 2.8],
    [5.2, 3.05, 5.6, 3.2, 5.8, 2.6, 6.0, 3.4, 6.3, 2.7, 6.8, 3.3, 7.2, 3.0, 7.5, 3.6, 7.8, 3.5, 8.5, 3.6, 9.4, 3.15, 10.5, 3.3, 11.5, 3.3, 12.5, 3.35, 13.5, 3.15],
    [4.0, 1.65, 4.4, 1.8, 4.8, 2.0, 5.2, 2.2, 5.6, 2.4, 6.0, 2.7, 6.5, 2.9, 7.0, 2.8, 7.5, 2.7, 8.1, 2.9, 8.7, 2.8, 9.3, 2.7, 10.0, 2.5, 10.8, 2.4, 11.6, 2.2, 12.4, 1.9, 13.2, 1.55],
    [4.2, 1.75, 4.6, 1.65, 5.0, 2.0, 5.4, 2.3, 5.8, 2.5, 6.3, 2.9, 6.8, 2.8, 7.4, 2.6, 8.0, 2.5, 8.6, 2.75, 9.2, 2.6, 10.0, 2.75, 10.8, 2.5, 11.7, 2.3, 12.6, 1.9, 13.5, 1.65, 14.2, 1.4],
    [4.5, 1.55, 4.9, 1.75, 5.3, 1.9, 5.7, 2.1, 6.1, 2.3, 6.6, 2.5, 7.1, 2.4, 7.7, 2.3, 8.3, 2.25, 9.0, 2.05, 9.6, 1.9, 10.2, 1.6, 10.8, 1.35, 11.5, 1.3],
    [5.0, 1.8, 5.4, 2.0, 5.8, 2.3, 6.2, 2.2, 6.8, 2.15, 7.4, 2.1, 8.0, 2.05, 8.7, 2.0, 9.4, 2.05, 10.0, 1.75, 10.7, 1.4, 11.5, .9],
    [5.5, 2.3, 5.9, 2.7, 6.3, 2.9, 6.9, 3.0, 7.5, 2.85, 8.2, 2.6, 8.8, 2.4],
    [4.8, 1.7, 5.2, 1.85, 5.7, 2.0, 6.2, 2.05, 6.8, 2.0, 7.4, 2.0, 8.0, 1.95, 8.6, 1.9, 9.3, 1.9],
    [5.8, 2.35, 6.2, 2.5, 6.7, 2.35, 7.2, 2.45, 7.8, 2.4, 8.5, 2.45],
]
RUN_MILD_RED = [
    [4.0, 1.1, 4.3, 1.2, 4.7, 1.35, 5.1, 1.3, 5.6, 1.5, 6.1, 1.65, 6.6, 1.6, 7.1, 1.5, 7.6, 1.35, 8.2, 1.2, 8.8, .7, 9.4, .2, 9.6, 0.0],
    [7.3, 3.9, 7.6, 4.6, 7.8, 3.0, 8.0, 2.5, 8.5, 2.2, 9.0, 2.4, 9.5, 2.0, 10.0, 1.7, 10.6, 1.3, 11.2, .8, 11.7, .3, 12.0, 0.0],
    [7.9, 3.6, 8.1, 2.6, 8.6, 2.4, 9.1, 2.2, 9.6, 3.8, 9.8, 2.6, 10.3, 2.3, 10.9, 3.6, 11.4, 2.8, 12.0, 2.6, 12.6, 2.5, 13.4, 2.4],
    [9.0, 3.5, 9.5, 2.9, 10.2, 2.7, 11.0, 3.4, 11.8, 3.5, 12.6, 3.4, 13.5, 3.45, 14.5, 3.1],
    [10.0, 2.8, 10.8, 3.1, 11.5, 3.3, 12.2, 2.9, 13.0, 2.7, 13.6, 2.9, 14.5, 2.75],
    [11.0, 2.5, 11.8, 2.6, 12.5, 2.55, 13.2, 2.4, 14.0, 2.3, 14.6, 2.0],
    [10.5, 2.2, 11.3, 2.3, 12.0, 2.2, 12.7, 2.0, 13.4, 2.0, 14.2, 1.7, 14.9, 1.5],
    [9.4, 2.2, 10.0, 2.4, 10.7, 2.2, 11.5, 2.0, 12.3, 1.8, 13.0, 1.5, 13.8, 1.3, 14.3, 1.2, 14.8, 1.1],
    [8.5, 2.5, 9.1, 2.3, 9.7, 2.1, 10.4, 2.0, 11.2, 1.8, 12.0, 1.6, 12.9, 1.4, 13.8, 1.1, 14.6, .85],
    [7.5, 2.6, 8.0, 2.4, 8.6, 2.3, 9.2, 2.2, 9.9, 2.0, 10.6, 1.8, 11.4, 1.5, 12.2, 1.2, 13.1, .95, 14.0, .75, 14.9, .65],
    [6.0, 2.2, 6.5, 2.3, 7.0, 2.5, 7.5, 2.4, 8.0, 2.3, 8.6, 2.1, 9.2, 1.8, 9.9, 1.5, 10.6, 1.1, 11.3, .6, 12.0, .15, 12.1, 0.0],
    [6.5, 2.6, 7.0, 2.7, 7.6, 2.8, 8.2, 2.6, 8.8, 2.4, 9.5, 2.1, 10.2, 1.8, 11.0, 1.4, 11.8, 1.0, 12.5, .45],
    [5.5, 1.9, 6.0, 2.0, 6.6, 2.1, 7.2, 2.2, 7.8, 2.1, 8.4, 1.9, 9.0, 1.6, 9.6, 1.0, 10.2, .4, 10.4, 0.0],
    [7.0, 1.9, 7.6, 2.0, 8.2, 1.8, 8.8, 1.5, 9.4, 1.0, 10.0, .5, 10.6, 0.0],
    [8.0, 2.8, 8.5, 2.6, 9.1, 2.5, 9.8, 2.3, 10.5, 2.0, 11.3, 1.7, 12.1, 1.3, 12.9, .9, 13.7, .5, 14.2, .35, 15.0, 0.0],
    [6.8, 2.3, 7.3, 2.2, 7.9, 2.4, 8.5, 2.2, 9.1, 2.0, 9.8, 1.6, 10.5, 1.2, 11.3, .6, 11.8, 0.0],
    [8.8, 2.3, 9.4, 2.1, 10.1, 2.0, 10.8, 1.6, 11.6, 1.3, 12.4, .95, 13.2, .6, 13.9, .3],
    [5.0, 2.3, 5.5, 2.2, 6.0, 2.4, 6.5, 2.5, 7.0, 2.3, 7.6, 2.1, 8.2, 1.9, 8.8, 1.7, 9.4, 1.5],
    [7.2, 2.9, 7.7, 2.7, 8.3, 2.9, 8.9, 2.7, 9.5, 2.6, 10.2, 2.4, 11.0, 2.1, 11.8, 1.8, 12.6, 1.6, 13.4, 1.4, 14.2, 1.3, 14.9, 1.5],
    [9.6, 2.3, 10.2, 2.5, 10.8, 2.3, 11.5, 2.1, 12.2, 1.8, 12.9, 1.45, 13.6, 1.2, 14.2, .9],
    [6.2, 2.0, 6.8, 2.1, 7.4, 1.9, 8.0, 1.65, 8.7, 1.35, 9.4, 1.05, 10.1, .75, 10.8, .35, 11.2, 0.0],
    [8.3, 1.8, 8.9, 1.6, 9.5, 1.5, 10.1, 1.2, 10.8, .9, 11.5, .5, 12.0, 0.0],
    [11.0, 2.0, 11.8, 1.8, 12.5, 1.7, 13.3, 1.6, 14.0, 1.5, 14.6, 1.45],
    [5.6, 2.3, 6.1, 2.5, 6.7, 2.4, 7.3, 2.6, 7.9, 2.5, 8.5, 2.4, 9.2, 2.3, 9.9, 2.1, 10.6, 1.9, 11.4, 1.55, 12.2, 1.1, 13.0, .65, 13.5, .5],
    [12.0, 1.8, 12.8, 1.7, 13.6, 1.5, 14.4, 1.3, 14.9, 1.0],
    [6.3, 2.35, 6.7, 2.7, 7.1, 2.3, 7.6, 2.6, 8.1, 2.2, 8.6, 2.4, 9.1, 2.0, 9.7, 2.1, 10.3, 1.7, 11.0, 1.6, 11.7, 1.1, 12.4, .8],
    [7.0, 2.1, 7.4, 2.5, 7.9, 2.15, 8.4, 2.45, 8.9, 2.05, 9.4, 2.3, 10.0, 1.85, 10.6, 1.9, 11.3, 1.4, 12.0, 1.2, 12.8, .7, 13.5, .45],
    [5.9, 2.15, 6.3, 1.9, 6.8, 2.4, 7.3, 2.0, 7.8, 2.3, 8.3, 1.85, 8.8, 2.0, 9.4, 1.5, 10.0, 1.3, 10.7, .7, 11.3, .3, 11.6, 0.0],
    [8.2, 3.1, 8.6, 2.7, 9.0, 2.95, 9.5, 2.5, 10.1, 2.6, 10.7, 2.2, 11.4, 2.25, 12.1, 1.8, 12.9, 1.7, 13.7, 1.3, 14.5, 1.1],
    [9.2, 2.8, 9.7, 2.45, 10.3, 2.6, 10.9, 2.2, 11.6, 2.3, 12.3, 1.9, 13.1, 1.85, 13.9, 1.5, 14.7, 1.35],
    [5.2, 1.9, 5.6, 2.25, 6.0, 1.95, 6.5, 2.35, 7.0, 2.05, 7.5, 2.25, 8.0, 1.8, 8.6, 1.9, 9.2, 1.4, 9.8, 1.1, 10.4, .5, 10.9, 0.0],
    [7.7, 1.85, 8.1, 2.15, 8.6, 1.75, 9.1, 1.95, 9.6, 1.55, 10.2, 1.6, 10.8, 1.1, 11.5, .9, 12.2, .4, 12.6, 0.0],
    [10.3, 2.65, 10.9, 2.35, 11.5, 2.5, 12.1, 2.1, 12.8, 2.15, 13.5, 1.75, 14.3, 1.6, 14.9, 1.25],
    [4.6, 1.9, 5.0, 2.15, 5.4, 1.85, 5.9, 2.3, 6.4, 2.1, 6.9, 2.45, 7.4, 2.2, 8.0, 2.35],
]

PANELS = [
    [(STAND_FAST_GREEN, STAND_FAST_BLUE, STAND_FAST_RED),
     (STAND_MOD_GREEN, STAND_MOD_BLUE, STAND_MOD_RED),
     (STAND_MILD_GREEN, STAND_MILD_BLUE, STAND_MILD_RED)],
    [(CLIMB_FAST_GREEN, CLIMB_FAST_BLUE, CLIMB_FAST_RED),
     (CLIMB_MOD_GREEN, CLIMB_MOD_BLUE, CLIMB_MOD_RED),
     (CLIMB_MILD_GREEN, CLIMB_MILD_BLUE, CLIMB_MILD_RED)],
    [(RUN_FAST_GREEN, RUN_FAST_BLUE, RUN_FAST_RED),
     (RUN_MOD_GREEN, RUN_MOD_BLUE, RUN_MOD_RED),
     (RUN_MILD_GREEN, RUN_MILD_BLUE, RUN_MILD_RED)],
]

# ---------------- layout ----------------
plt.rcParams["font.family"] = ["Liberation Sans", "DejaVu Sans"]
W, H = 1164, 877
fig = plt.figure(figsize=(W / 100, H / 100), dpi=100)
fig.patch.set_facecolor("white")

PX_PER_AGE = 26.97
COL_LEFT = [65, 455, 845.5]
COL_RIGHT = [391, 781, 1162]
ROW_TOP = [57.5, 321, 604.4]
ROW_BOT = [272, 555.7, 838.3]
ROW_YLIM = [(-0.0375, 0.7875), (-0.05, 1.05), (-0.25, 5.25)]
ROW_MINOR = [[0.125, 0.375, 0.625], [0.125, 0.375, 0.625, 0.875],
             [0.625, 1.875, 3.125, 4.375]]
TXT = "#111111"
GRID_MAJ = "#EBEBEB"
GRID_MIN = "#F4F4F4"
BORDER = "#A0A0A0"
DRAW_ORDER = [2, 1, 0]  # red, blue, green

def fx(px):
    return px / W

def fy(py):
    return 1 - py / H

for r in range(3):
    for c in range(3):
        l, rt = COL_LEFT[c], COL_RIGHT[c]
        t, b = ROW_TOP[r], ROW_BOT[r]
        ax = fig.add_axes([fx(l), fy(b), (rt - l) / W, (b - t) / H])
        x0 = 3.45
        ax.set_xlim(x0, x0 + (rt - l) / PX_PER_AGE)
        ax.set_ylim(*ROW_YLIM[r])
        ax.set_xticks(X_TICKS)
        ax.set_xticks([5, 7, 9, 11, 13, 15], minor=True)
        ax.set_yticks(ROW_TICKS[r])
        ax.set_yticks(ROW_MINOR[r], minor=True)
        ax.set_yticklabels([f"{v:.2f}" for v in ROW_TICKS[r]])
        ax.grid(which="major", color=GRID_MAJ, lw=1.0, zorder=0)
        ax.grid(which="minor", color=GRID_MIN, lw=0.6, zorder=0)
        ax.set_axisbelow(True)
        ax.tick_params(which="major", length=3, width=0.8, color="#555555",
                       labelsize=12.2, labelcolor=TXT, pad=2.2)
        ax.tick_params(which="minor", length=0)
        for s in ax.spines.values():
            s.set_color(BORDER)
            s.set_linewidth(1.0)
        groups = PANELS[r][c]
        for g in DRAW_ORDER:
            for traj in groups[g]:
                ax.plot(traj[0::2], traj[1::2], color=COLORS[g], lw=1.25,
                        alpha=0.85, solid_joinstyle="round", zorder=2)
        if r == 2 or (r == 0 and c == 2):
            ax.set_xlabel("Age", fontsize=11.5, color=TXT, labelpad=0)
        if c == 0:
            fig.text(fx(18), fy((t + b) / 2), ROW_LABELS[r], rotation=90,
                     ha="center", va="center", fontsize=11.4, color=TXT)

# column titles (centred over panels)
for c in range(3):
    xc = (COL_LEFT[c] + COL_RIGHT[c]) / 2
    fig.text(fx(xc), fy(45), COLUMN_TITLES[c], ha="center", va="center",
             fontsize=11.2, color=TXT)

# legend at top
LEG_Y = fy(19)
fig.text(fx(124), LEG_Y, "Steroid", ha="left", va="center", fontsize=11.2, color=TXT)
LABEL_X = [205, 533, 827]
for g in range(3):
    x_end = LABEL_X[g] - 9
    fig.add_artist(Line2D([fx(x_end - 14), fx(x_end)], [LEG_Y, LEG_Y],
                          color=COLORS[g], lw=1.3, alpha=0.85,
                          transform=fig.transFigure))
    fig.text(fx(LABEL_X[g]), LEG_Y, GROUPS[g], ha="left", va="center",
             fontsize=11.2, color=TXT)

fig.savefig("out.png", dpi=100, facecolor="white")
